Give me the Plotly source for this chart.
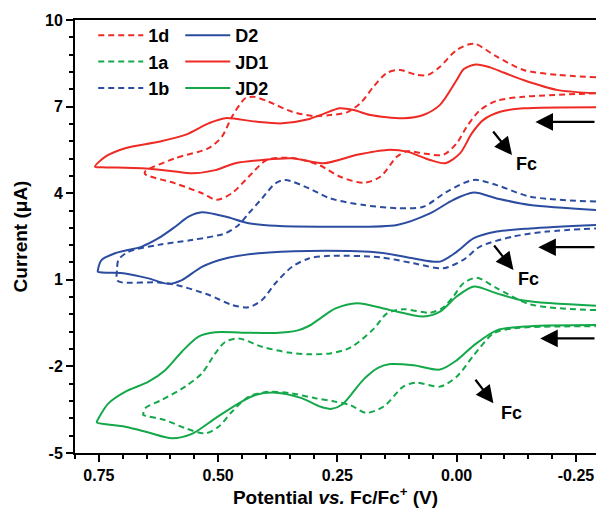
import plotly.graph_objects as go

# ---------------- data (potential in V vs Fc/Fc+, current in uA) ----------------
jd1_x = [-0.292, -0.21, -0.14, -0.098, -0.07, -0.04, -0.015, 0.0, 0.035, 0.07, 0.112, 0.181, 0.216, 0.245,
         0.279, 0.311, 0.366, 0.422, 0.485, 0.52, 0.569, 0.625, 0.695, 0.737, 0.758,
         0.744, 0.66, 0.59, 0.555, 0.506, 0.464, 0.408, 0.345, 0.279, 0.209, 0.146, 0.104, 0.056,
         0.024, -0.007, -0.032, -0.056, -0.091, -0.14, -0.292]
jd1_y = [7.46, 7.58, 7.92, 8.18, 8.36, 8.46, 8.3, 7.92, 7.06, 6.71, 6.6, 6.71, 6.88, 6.94,
         6.75, 6.56, 6.42, 6.48, 6.6, 6.42, 6.02, 5.78, 5.56, 5.26, 4.92,
         4.9, 4.86, 4.75, 4.69, 4.8, 5.04, 5.15, 5.21, 5.04, 5.33, 5.5, 5.44, 5.15,
         5.04, 5.38, 6.08, 6.54, 6.82, 6.94, 6.98]

d1d_x = [-0.292, -0.21, -0.14, -0.084, -0.036, 0.0, 0.035, 0.06, 0.084, 0.119, 0.146, 0.174, 0.2, 0.23,
         0.265, 0.297, 0.345, 0.394, 0.426, 0.443, 0.471, 0.492, 0.52, 0.59, 0.653,
         0.653, 0.59, 0.534, 0.503, 0.471, 0.436, 0.398, 0.345, 0.31, 0.286, 0.244, 0.195, 0.16,
         0.125, 0.104, 0.07, 0.028, 0.0, -0.021, -0.049, -0.084, -0.14, -0.292]
d1d_y = [8.02, 8.1, 8.27, 8.73, 9.18, 8.96, 8.38, 8.1, 8.1, 8.27, 8.17, 7.7, 7.15, 6.8,
         6.71, 6.67, 6.82, 7.17, 7.34, 7.29, 6.65, 5.96, 5.56, 5.21, 4.75,
         4.66, 4.34, 4.0, 3.77, 4.0, 4.57, 5.15, 5.22, 5.1, 4.96, 4.57, 4.36, 4.57,
         5.27, 5.45, 5.38, 5.33, 5.73, 6.3, 6.88, 7.2, 7.34, 7.46]

d2_x = [-0.292, -0.154, -0.084, -0.036, 0.007, 0.056, 0.125, 0.265, 0.38, 0.436, 0.485, 0.534, 0.562,
        0.59, 0.625, 0.66, 0.716, 0.744, 0.752,
        0.752, 0.695, 0.646, 0.604, 0.576, 0.534, 0.485, 0.415, 0.31, 0.16, 0.09, 0.035, 0.0,
        -0.036, -0.084, -0.154, -0.292]
d2_y = [3.42, 3.59, 3.82, 4.02, 3.77, 3.3, 2.9, 2.84, 2.87, 2.96, 3.19, 3.34, 3.19,
        2.84, 2.44, 2.15, 1.92, 1.69, 1.34,
        1.28, 1.22, 1.05, 0.86, 0.99, 1.45, 1.74, 1.92, 2.0, 1.94, 1.74, 1.63, 1.97,
        2.44, 2.67, 2.78, 2.9]

d1b_x = [-0.292, -0.154, -0.084, -0.036, 0.021, 0.07, 0.125, 0.195, 0.265, 0.31, 0.359, 0.38, 0.408,
         0.436, 0.457, 0.485, 0.555, 0.625, 0.688, 0.709, 0.712,
         0.712, 0.702, 0.625, 0.59, 0.52, 0.471, 0.436, 0.408, 0.38, 0.345, 0.31, 0.265, 0.16,
         0.09, 0.028, -0.014, -0.049, -0.119, -0.189, -0.292]
d1b_y = [3.71, 3.88, 4.28, 4.46, 4.05, 3.53, 3.48, 3.59, 3.82, 4.17, 4.46, 4.34, 3.82,
         3.3, 2.9, 2.61, 2.38, 2.21, 1.97, 1.69, 1.34,
         0.99, 0.91, 0.91, 0.83, 0.48, 0.13, 0.05, 0.3, 0.88, 1.45, 1.74, 1.83, 1.78,
         1.57, 1.4, 1.69, 2.15, 2.5, 2.67, 2.78]

jd2_x = [-0.292, -0.14, -0.084, -0.036, 0.0, 0.035, 0.07, 0.139, 0.209, 0.255, 0.283, 0.31, 0.335, 0.38,
         0.45, 0.506, 0.541, 0.576, 0.611, 0.646, 0.695, 0.73, 0.754,
         0.754, 0.695, 0.646, 0.597, 0.555, 0.506, 0.457, 0.422, 0.38, 0.325, 0.285, 0.262,
         0.24, 0.22, 0.195, 0.165, 0.139, 0.09, 0.035, 0.0, -0.036, -0.084, -0.154, -0.292]
jd2_y = [0.1, 0.28, 0.53, 0.77, 0.42, -0.1, -0.27, -0.05, 0.19, 0.0, -0.3, -0.6, -0.76, -0.84,
         -0.83, -0.82, -0.97, -1.49, -2.13, -2.53, -2.88, -3.28, -3.91,
         -3.95, -4.09, -4.29, -4.49, -4.34, -3.8, -3.28, -2.99, -2.91, -3.1, -3.4, -3.47,
         -3.32, -2.95, -2.45, -2.05, -1.92, -1.96, -2.11, -1.79, -1.27, -0.75, -0.61, -0.57]

d1a_x = [-0.292, -0.154, -0.084, -0.042, -0.014, 0.007, 0.03, 0.056, 0.112, 0.146, 0.174, 0.223, 0.265,
         0.31, 0.352, 0.408, 0.457, 0.485, 0.506, 0.534, 0.569, 0.618, 0.653, 0.657,
         0.657, 0.611, 0.569, 0.527, 0.499, 0.471, 0.436, 0.395, 0.345, 0.297, 0.255, 0.223,
         0.19, 0.153, 0.112, 0.085, 0.035, 0.0, -0.036, -0.077, -0.119, -0.292]
d1a_y = [-0.05, 0.15, 0.71, 1.07, 0.88, 0.42, 0.02, -0.14, -0.02, -0.16, -0.7, -1.35, -1.55,
         -1.58, -1.52, -1.32, -1.03, -1.15, -1.55, -2.24, -2.7, -3.16, -3.45, -3.65,
         -3.68, -3.86, -4.14, -4.32, -4.09, -3.57, -3.05, -2.88, -2.94, -3.1, -3.22, -3.34,
         -3.61, -3.39, -2.7, -2.56, -2.7, -2.36, -1.61, -0.86, -0.68, -0.61]

x_tickvals = [0.75, 0.5, 0.25, 0.0, -0.25]
x_ticktext = ["0.75", "0.50", "0.25", "0.00", "-0.25"]
y_tickvals = [-5, -2, 1, 4, 7, 10]
y_ticktext = ["-5", "-2", "1", "4", "7", "10"]

RED = "#EE2A24"
BLUE = "#2B4C9F"
GREEN = "#14A84A"
FONT = "Liberation Sans, Arial, sans-serif"

fig = go.Figure()

def add(x, y, name, color, dashed, legend):
    fig.add_trace(go.Scatter(
        x=x, y=y, mode="lines", name=name, legend=legend,
        line=dict(color=color, width=2, dash="6px,4px" if dashed else "solid",
                  shape="spline", smoothing=0.8),
        hoverinfo="skip"))

add(d1d_x, d1d_y, "1d", RED, True, "legend")
add(d1a_x, d1a_y, "1a", GREEN, True, "legend")
add(d1b_x, d1b_y, "1b", BLUE, True, "legend")
add(d2_x, d2_y, "D2", BLUE, False, "legend2")
add(jd1_x, jd1_y, "JD1", RED, False, "legend2")
add(jd2_x, jd2_y, "JD2", GREEN, False, "legend2")

# scan-direction arrows and Fc labels
scan_arrows = [(-0.165, 6.47), (-0.171, 2.13), (-0.175, -1.03)]
for (hx, hy) in scan_arrows:
    fig.add_annotation(x=hx, y=hy, ax=-0.292, ay=hy, xref="x", yref="y", axref="x", ayref="y",
                       text="", showarrow=True, arrowhead=2, arrowsize=1.6, arrowwidth=2.2,
                       arrowcolor="black")

fc_arrows = [((-0.074, 6.19), (-0.116, 5.32), (-0.146, 5.02)),
             ((-0.076, 2.24), (-0.119, 1.34), (-0.150, 1.04)),
             ((-0.037, -2.41), (-0.077, -3.28), (-0.114, -3.62))]
for (tail, head, lab) in fc_arrows:
    fig.add_annotation(x=head[0], y=head[1], ax=tail[0], ay=tail[1], xref="x", yref="y",
                       axref="x", ayref="y", text="", showarrow=True, arrowhead=2,
                       arrowsize=1.6, arrowwidth=2.2, arrowcolor="black")
    fig.add_annotation(x=lab[0], y=lab[1], xref="x", yref="y", text="Fc", showarrow=False,
                       font=dict(family=FONT, size=18, color="black", weight="bold"))

legend_common = dict(xref="paper", yref="paper", xanchor="left", yanchor="top",
                     bgcolor="rgba(0,0,0,0)", borderwidth=0, tracegroupgap=0,
                     itemwidth=45,
                     font=dict(family=FONT, size=18, color="black", weight="bold"))

fig.update_layout(
    width=596, height=522,
    margin=dict(l=75, r=0, t=20, b=69),
    paper_bgcolor="white", plot_bgcolor="white",
    font=dict(family=FONT, color="black"),
    showlegend=True,
    legend=dict(x=0.035, y=1.007, **legend_common),
    legend2=dict(x=0.202, y=1.007, **legend_common),
    xaxis=dict(
        range=[0.80, -0.292], showgrid=False, zeroline=False, automargin=False,
        showline=True, linecolor="black", linewidth=2, mirror=True,
        ticks="outside", ticklen=7, tickwidth=1.5, tickcolor="black",
        tickvals=x_tickvals, ticktext=x_ticktext,
        minor=dict(dtick=0.05, tick0=0, ticks="outside", ticklen=4, tickwidth=1.5, tickcolor="black"),
        tickfont=dict(family=FONT, size=16, color="black", weight="bold"),
        title=dict(text="Potential <i>vs.</i> Fc/Fc<sup>+</sup> (V)", standoff=2,
                   font=dict(family=FONT, size=19, color="black", weight="bold")),
    ),
    yaxis=dict(
        range=[-5, 10], showgrid=False, zeroline=False, automargin=False,
        showline=True, linecolor="black", linewidth=2, mirror=False,
        ticks="outside", ticklen=7, tickwidth=1.5, tickcolor="black",
        tickvals=y_tickvals, ticktext=y_ticktext,
        minor=dict(dtick=0.6, tick0=-5, ticks="outside", ticklen=4, tickwidth=1.5, tickcolor="black"),
        tickfont=dict(family=FONT, size=16, color="black", weight="bold"),
        title=dict(text="Current (μA)", standoff=12,
                   font=dict(family=FONT, size=19, color="black", weight="bold")),
    ),
)

fig.write_html("out.html", config={"displayModeBar": False},
               post_script="document.body.style.margin='0';")
